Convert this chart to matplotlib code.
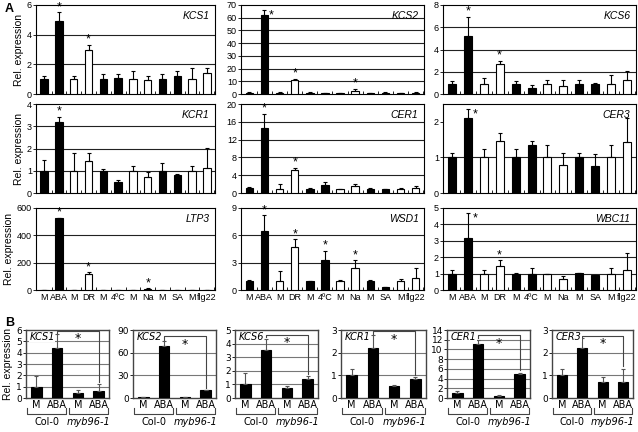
import matplotlib
matplotlib.use("Agg")
import matplotlib.pyplot as plt
import numpy as np

W, H = 638, 432

# ---------------- Panel A data ----------------
treat_labels = ["M", "ABA", "M", "DR", "M", "4ºC", "M", "Na", "M", "SA", "M", "flg22"]
bar_fill = ["k", "k", "w", "w", "k", "k", "w", "w", "k", "k", "w", "w"]

genes_A = ["KCS1", "KCS2", "KCS6", "KCR1", "CER1", "CER3", "LTP3", "WSD1", "WBC11"]

kcs1_val = [1.0, 4.9, 1.0, 2.95, 1.0, 1.05, 1.0, 0.95, 1.0, 1.22, 1.0, 1.43]
kcs1_err = [0.22, 0.6, 0.2, 0.35, 0.35, 0.3, 0.55, 0.25, 0.35, 0.3, 0.72, 0.3]
kcs2_val = [1.0, 62.0, 1.0, 11.0, 1.0, 0.6, 0.6, 2.5, 0.6, 1.0, 0.6, 1.0]
kcs2_err = [0.5, 4.3, 0.5, 0.9, 0.5, 0.3, 0.3, 1.3, 0.3, 0.5, 0.3, 0.8]
kcs6_val = [0.92, 5.18, 0.92, 2.68, 0.92, 0.58, 0.92, 0.72, 0.92, 0.86, 0.92, 1.24]
kcs6_err = [0.28, 1.78, 0.52, 0.32, 0.28, 0.2, 0.32, 0.52, 0.32, 0.09, 0.75, 0.83]
kcr1_val = [1.0, 3.21, 1.0, 1.43, 1.0, 0.5, 1.0, 0.74, 1.0, 0.81, 1.0, 1.14]
kcr1_err = [0.47, 0.22, 0.8, 0.37, 0.06, 0.1, 0.2, 0.2, 0.34, 0.03, 0.2, 0.89]
cer1_val = [1.15, 14.5, 1.0, 5.1, 0.93, 1.7, 0.86, 1.6, 1.0, 0.86, 0.93, 1.15]
cer1_err = [0.3, 3.2, 1.1, 0.6, 0.1, 0.8, 0.1, 0.4, 0.1, 0.05, 0.27, 0.35]
cer3_val = [1.0, 2.1, 1.0, 1.47, 1.0, 1.35, 1.0, 0.78, 1.0, 0.75, 1.0, 1.43]
cer3_err = [0.13, 0.25, 0.25, 0.21, 0.23, 0.12, 0.35, 0.35, 0.13, 0.35, 0.35, 0.67]
ltp3_val = [1.0, 530.0, 1.0, 120.0, 1.0, 1.0, 1.0, 10.0, 1.0, 1.0, 1.0, 1.0]
ltp3_err = [0.5, 0.0, 0.5, 9.0, 0.5, 0.5, 0.5, 5.0, 0.5, 0.5, 0.5, 0.5]
wsd1_val = [0.98, 6.44, 1.0, 4.77, 1.0, 3.27, 1.0, 2.38, 1.0, 0.33, 1.0, 1.34]
wsd1_err = [0.12, 1.76, 1.12, 0.78, 0.04, 1.03, 0.05, 0.92, 0.1, 0.05, 0.24, 1.11]
wbc11_val = [1.0, 3.15, 1.0, 1.49, 1.0, 1.0, 1.0, 0.67, 1.03, 0.93, 1.0, 1.25]
wbc11_err = [0.2, 1.52, 0.23, 0.31, 0.03, 0.33, 0.0, 0.21, 0.03, 0.0, 0.33, 0.98]

vals_A = [kcs1_val, kcs2_val, kcs6_val, kcr1_val, cer1_val, cer3_val, ltp3_val, wsd1_val, wbc11_val]
errs_A = [kcs1_err, kcs2_err, kcs6_err, kcr1_err, cer1_err, cer3_err, ltp3_err, wsd1_err, wbc11_err]
ylims_A = [6, 70, 8, 4, 20, 2.5, 600, 9, 5]
yticks_A = [[0, 2, 4, 6], list(range(0, 71, 10)), [0, 2, 4, 6, 8], [0, 1, 2, 3, 4],
            [0, 4, 8, 12, 16, 20], [0, 1, 2], [0, 200, 400, 600], [0, 3, 6, 9], [0, 1, 2, 3, 4, 5]]
stars_A = [[1, 3], [1, 3, 7], [1, 3], [1], [1, 3], [1], [1, 3, 7], [1, 3, 5, 7], [1, 3]]
star_right = {("KCS2", 1), ("CER3", 1), ("WBC11", 1)}

# ---------------- Panel B data ----------------
genes_B = ["KCS1", "KCS2", "KCS6", "KCR1", "CER1", "CER3"]
b_xlabels = ["M", "ABA", "M", "ABA"]
b_groups = ["Col-0", "myb96-1"]
b_vals = [[1.0, 4.4, 0.45, 0.65], [1.0, 69.0, 1.5, 10.5], [1.0, 3.5, 0.72, 1.4],
          [1.0, 2.22, 0.53, 0.85], [1.0, 11.1, 0.5, 4.9], [1.0, 2.2, 0.7, 0.7]]
b_errs = [[0.9, 1.25, 0.25, 0.55], [0.5, 6.0, 0.3, 0.6], [0.85, 0.85, 0.18, 0.2],
          [0.3, 0.55, 0.04, 0.08], [0.5, 0.9, 0.05, 0.35], [0.3, 0.45, 0.23, 0.6]]
b_ylims = [6, 90, 5, 3, 14, 3]
b_yticks = [list(range(0, 7)), [0, 30, 60, 90], list(range(0, 6)), [0, 1, 2, 3],
            list(range(0, 15, 2)), [0, 1, 2, 3]]
b_brk = [5.95, 82, 4.65, 2.95, 12.9, 2.75]

FA = "Liberation Sans"
FB = "DejaVu Sans"

fig = plt.figure(figsize=(W / 100, H / 100), dpi=100)


def add_px(x0, y0, x1, y1):
    return fig.add_axes([x0 / W, 1 - y1 / H, (x1 - x0) / W, (y1 - y0) / H])


cols = [(36, 215), (241, 424), (443, 636)]
rows = [(5, 94), (104, 193), (208, 290)]

x = np.arange(12)
for i, g in enumerate(genes_A):
    r, c = divmod(i, 3)
    ax = add_px(cols[c][0], rows[r][0], cols[c][1], rows[r][1])
    v = vals_A[i]
    e = errs_A[i]
    ax.bar(x, v, width=0.5, color=bar_fill, edgecolor="k", linewidth=0.8, zorder=3)
    ax.errorbar(x, v, yerr=[np.zeros(12), e], fmt="none", ecolor="k",
                elinewidth=0.8, capsize=1.5, capthick=0.8, zorder=4)
    ax.set_xlim(-0.55, 11.55)
    ax.set_ylim(0, ylims_A[i])
    ax.set_yticks(yticks_A[i])
    for t in yticks_A[i][1:-1]:
        ax.axhline(t, color="#222222", lw=0.8, zorder=1)
    ax.tick_params(axis="y", labelsize=6.5, length=2, width=0.6, pad=1)
    for lab in ax.get_yticklabels():
        lab.set_family(FA)
    ax.set_xticks(x + 0.5, minor=True)
    ax.tick_params(axis="x", which="minor", direction="in", length=2, width=0.6)
    if r == 2:
        ax.set_xticks(x)
        ax.set_xticklabels(treat_labels, fontsize=6.5, family=FA)
        ax.tick_params(axis="x", which="major", length=0, pad=2)
    else:
        ax.set_xticks([])
    for s in ax.spines.values():
        s.set_linewidth(0.8)
    ax.text(0.97, 0.93, g, transform=ax.transAxes, ha="right", va="top",
            fontsize=7.5, style="italic", family=FA, zorder=6)
    for sidx in stars_A[i]:
        top = v[sidx] + e[sidx]
        if (g, sidx) in star_right:
            ax.text(sidx + 0.45, top - ylims_A[i] * 0.06, "*", ha="center", va="center",
                    fontsize=9, family=FA, zorder=6)
        else:
            ax.text(sidx, top + ylims_A[i] * 0.06, "*", ha="center", va="center",
                    fontsize=9, family=FA, zorder=6)
    if c == 0:
        ax.set_ylabel("Rel. expression", fontsize=7.5, family=FA, labelpad=2)

fig.text(5 / W, 1 - 9 / H, "A", fontsize=9, fontweight="bold", family=FA, va="center")
fig.text(5 / W, 1 - 323 / H, "B", fontsize=9, fontweight="bold", family=FA, va="center")

# ---------------- Panel B ----------------
bcols = [(26, 109), (133, 216), (235, 318), (341, 426), (447, 530), (552, 633)]
brow = (330, 398)
xb = np.arange(4)
for i, g in enumerate(genes_B):
    ax = add_px(bcols[i][0], brow[0], bcols[i][1], brow[1])
    v = b_vals[i]
    e = b_errs[i]
    ax.bar(xb, v, width=0.5, color="k", edgecolor="k", linewidth=0.8, zorder=3)
    ax.errorbar(xb, v, yerr=[np.zeros(4), e], fmt="none", ecolor="#555555",
                elinewidth=0.8, capsize=1.2, capthick=0.8, zorder=4)
    ax.set_xlim(-0.5, 3.5)
    ax.set_ylim(0, b_ylims[i])
    ax.set_yticks(b_yticks[i])
    for t in b_yticks[i][1:-1]:
        ax.axhline(t, color="#777777", lw=0.8, zorder=1)
    ax.tick_params(axis="y", labelsize=6.5, length=2, width=0.6, pad=1)
    ax.set_xticks(xb)
    ax.set_xticklabels(b_xlabels, fontsize=7, family=FB)
    ax.tick_params(axis="x", length=0, pad=1.5)
    for lab in ax.get_yticklabels():
        lab.set_family(FB)
    for s in ax.spines.values():
        s.set_linewidth(1.0)
        s.set_color("#444444")
    ax.text(0.04, 0.97, g, transform=ax.transAxes, ha="left", va="top",
            fontsize=7, style="italic", family=FB, zorder=6,
            bbox=dict(facecolor="white", edgecolor="none", pad=0.3))
    # significance bracket
    ym = b_ylims[i]
    yb = b_brk[i]
    ax.plot([1, 1, 3, 3], [v[1] + e[1] + ym * 0.02, yb, yb, v[3] + e[3] + ym * 0.03],
            color="#444444", lw=0.8, zorder=5)
    ax.text(2, yb - ym * 0.12, "*", ha="center", va="center", fontsize=9, family=FB, zorder=6)
    if i == 0:
        ax.set_ylabel("Rel. expression", fontsize=7.5, family=FA, labelpad=2)
    # group brackets below
    yl = -0.24
    for gx0, gx1 in [(-0.45, 1.45), (1.55, 3.45)]:
        ax.plot([gx0, gx0, gx1, gx1], [yl + 0.1, yl, yl, yl + 0.1], color="#444444", lw=0.8,
                transform=ax.get_xaxis_transform(), clip_on=False)
    ax.text(0.5, -0.36, "Col-0", transform=ax.get_xaxis_transform(), ha="center", va="center",
            fontsize=7, family=FB)
    ax.text(2.5, -0.36, "myb96-1", transform=ax.get_xaxis_transform(), ha="center", va="center",
            fontsize=7, family=FB, style="italic")

fig.savefig("out.png", dpi=100)
